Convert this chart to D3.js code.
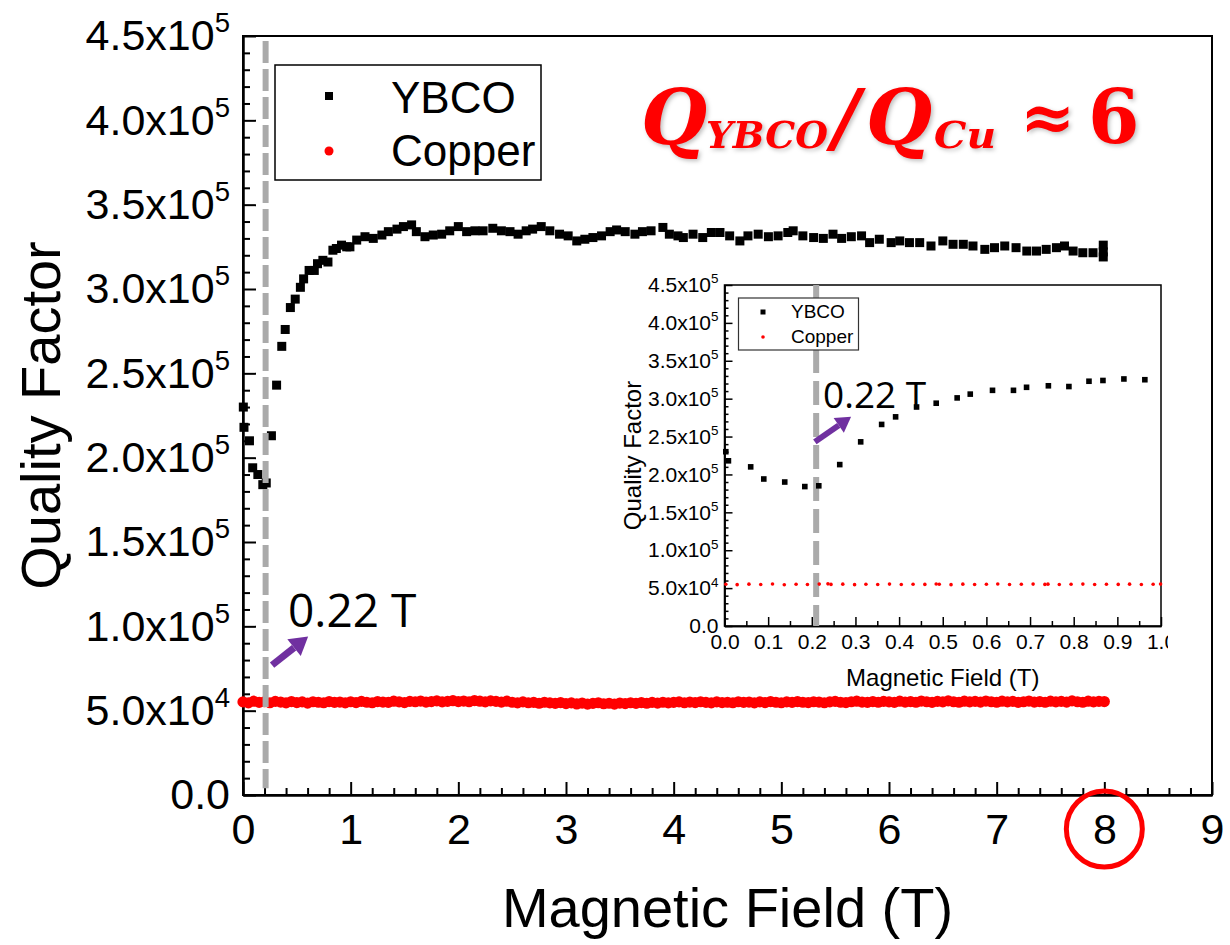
<!DOCTYPE html>
<html>
<head>
<meta charset="utf-8">
<script src="https://cdn.jsdelivr.net/npm/d3@7"></script>
<style>
  body { margin: 0; background: #fff; }
</style>
</head>
<body>
<script>
// ---- data ----
const xTicks = [0, 1, 2, 3, 4, 5, 6, 7, 8, 9];
const yTicks = [0, 50000, 100000, 150000, 200000, 250000, 300000, 350000, 400000, 450000];
const insetXTicks = [0, 0.1, 0.2, 0.3, 0.4, 0.5, 0.6, 0.7, 0.8, 0.9, 1.0];
const seriesNames = ["YBCO", "Copper"];
const transitionField = 0.21;

// YBCO below 1 T (same points as in the inset)
const lowField = [0.003, 0.009, 0.06, 0.09, 0.138, 0.184, 0.216, 0.264, 0.312, 0.36, 0.392, 0.44,
  0.485, 0.533, 0.563, 0.614, 0.662, 0.692, 0.742, 0.789, 0.835, 0.867, 0.915, 0.963];
const lowQ = [230000, 218000, 210000, 194000, 190000, 184000, 185000, 213000, 243000, 266000, 276000, 289000,
  294000, 301000, 306000, 311000, 311000, 315000, 317000, 316000, 323000, 324000, 326000, 325000];

// YBCO from 1 T to 8 T
const highField = [0.993, 1.056, 1.133, 1.21, 1.29, 1.35, 1.43, 1.49, 1.566, 1.61, 1.69, 1.767, 1.845, 1.92,
  2.0, 2.077, 2.154, 2.23, 2.32, 2.40, 2.48, 2.555, 2.63, 2.69, 2.77, 2.85, 2.94, 3.02, 3.10, 3.175, 3.25,
  3.33, 3.41, 3.47, 3.55, 3.64, 3.71, 3.79, 3.90, 3.96, 4.04, 4.09, 4.18, 4.27, 4.35, 4.43, 4.52, 4.615,
  4.69, 4.785, 4.88, 4.97, 5.06, 5.11, 5.20, 5.30, 5.39, 5.48, 5.56, 5.65, 5.745, 5.82, 5.91, 6.02, 6.10,
  6.19, 6.285, 6.39, 6.50, 6.595, 6.69, 6.78, 6.89, 6.98, 7.075, 7.18, 7.28, 7.37, 7.46, 7.555, 7.63,
  7.71, 7.80, 7.895, 7.99, 7.99, 7.99];
const highQ = [325000, 329000, 331000, 330000, 332000, 334000, 335500, 337000, 338000, 334000, 331000, 332000,
  332500, 334500, 337000, 334000, 334500, 334500, 336000, 334500, 334000, 332500, 334500, 335500, 337000,
  334500, 332500, 331500, 328500, 329500, 330500, 331500, 334000, 335000, 334000, 332500, 334000, 334500,
  336500, 332500, 331500, 330500, 332500, 330500, 333500, 333500, 331500, 328500, 331500, 332500, 331000,
  331500, 333500, 334500, 331500, 330500, 330000, 332500, 330000, 331000, 331500, 327500, 329500, 327500,
  328500, 327500, 327500, 325500, 328500, 326500, 326500, 325500, 323500, 324500, 325500, 324500, 322500,
  322500, 323500, 324500, 325500, 322500, 321500, 321500, 326000, 322000, 319000];

// Copper, sampled every 0.05 T from 0 to 8 T
const copperQ = [
  55200, 54600, 55600, 54900, 55300, 54700, 55500, 55100, 54600, 55400, 54800, 55200, 54500, 55300, 55000, 54700, 55400, 54900, 55100, 54600,
  55300, 54800, 55500, 55000, 54700, 55400, 55100, 54900, 55600, 55200, 54800, 55500, 55300, 55700, 55100, 55400, 55800, 55200, 55500, 55900,
  55400, 55700, 55300, 56000, 55600, 55200, 55800, 55500, 55100, 55600, 55000, 54600, 55200, 54700, 54900, 54400, 55000, 54600, 54300, 54800,
  54200, 54600, 54000, 54500, 53900, 54300, 54700, 54100, 54400, 53900, 54500, 54200, 54700, 54300, 54800, 54400, 54900, 54500, 55000, 54600,
  54900, 55200, 54700, 55100, 54800, 55300, 54900, 54600, 55200, 54800, 55000, 54700, 55300, 54900, 55100, 54600, 55200, 54800, 55400, 55000,
  54700, 55200, 54900, 55400, 55000, 54800, 55300, 55100, 54700, 55200, 55500, 55000, 54800, 55300, 55600, 55100, 54900, 55400, 55000, 55500,
  55200, 54900, 55600, 55100, 55400, 55000, 55700, 55300, 54900, 55500, 55200, 55800, 55300, 55000, 55600, 55200, 55500, 55100, 55700, 55300,
  55000, 55600, 55200, 55500, 54900, 55300, 55700, 55100, 55400, 55000, 55600, 55200, 55500, 55100, 55800, 55300, 55000, 55600, 55200, 55500,
  55400];
const copperStep = 0.05;

// Copper points shown in the inset
const insetCuField = [0.003, 0.029, 0.056, 0.083, 0.110, 0.137, 0.164, 0.190, 0.217, 0.237, 0.244, 0.271, 0.298,
  0.324, 0.351, 0.378, 0.405, 0.432, 0.459, 0.485, 0.492, 0.519, 0.546, 0.573, 0.600, 0.626, 0.653, 0.680,
  0.707, 0.734, 0.741, 0.767, 0.794, 0.821, 0.848, 0.875, 0.902, 0.928, 0.955, 0.982, 0.999];
const insetCuQ = [55000, 54600, 55200, 54800, 55400, 54500, 55100, 54700, 55300, 55600, 54900, 55200, 54600,
  55000, 54800, 55300, 54700, 55100, 54900, 55400, 55000, 54600, 55200, 54800, 55100, 55500, 54700, 55000,
  55300, 54900, 55200, 54800, 55000, 55300, 54700, 55100, 54900, 55200, 54800, 55000, 55300];

const ybco = lowField.map((f, i) => ({ f, q: lowQ[i] }))
  .concat(highField.map((f, i) => ({ f, q: highQ[i] })));
const copper = copperQ.map((q, i) => ({ f: i * copperStep, q }));
const insetYbco = lowField.map((f, i) => ({ f, q: lowQ[i] }));
const insetCopper = insetCuField.map((f, i) => ({ f, q: insetCuQ[i] }));

const FONT = "'Liberation Sans', Arial, Helvetica, sans-serif";
const CALIBRI = "'Open Sans', 'Noto Sans', sans-serif";
const PURPLE = "#7030a0";
const RED = "#ff0000";

const svg = d3.select("body").append("svg")
  .attr("width", 1230)
  .attr("height", 945)
  .style("font-family", FONT);

// label like 4.5x10^5
function sciLabel(text, v, fs) {
  text.text(null);
  if (v === 0) { text.text("0.0"); return; }
  const e = Math.floor(Math.log10(v) + 1e-9);
  const m = (v / Math.pow(10, e)).toFixed(1);
  text.append("tspan").text(m + "x10");
  text.append("tspan").attr("dy", -fs * 0.42).attr("font-size", fs * 0.64).text(e);
}

function styleAxis(g, fs, sw) {
  g.attr("font-size", fs).attr("font-family", FONT);
  g.select(".domain").attr("stroke", "#000").attr("stroke-width", sw);
  g.selectAll(".tick line").attr("stroke", "#000").attr("stroke-width", sw);
  g.selectAll(".tick text").attr("fill", "#000");
}

function arrow(g, x1, y1, x2, y2, w, head) {
  const ang = Math.atan2(y2 - y1, x2 - x1);
  const bx = x2 - head * Math.cos(ang), by = y2 - head * Math.sin(ang);
  g.append("line").attr("x1", x1).attr("y1", y1).attr("x2", bx).attr("y2", by)
    .attr("stroke", PURPLE).attr("stroke-width", w);
  const px = Math.sin(ang) * head * 0.6, py = -Math.cos(ang) * head * 0.6;
  g.append("polygon")
    .attr("points", `${x2},${y2} ${bx + px},${by + py} ${bx - px},${by - py}`)
    .attr("fill", PURPLE);
}

// ================= main plot =================
const x = d3.scaleLinear().domain([0, 9]).range([243, 1212]);
const y = d3.scaleLinear().domain([0, 450000]).range([795, 36]);

// minor ticks
const xMinor = d3.range(0, 9.001, 0.2).filter(v => Math.abs(v - Math.round(v)) > 1e-6);
const yMinor = d3.range(0, 450001, 10000).filter(v => v % 50000 !== 0);

svg.append("g").attr("transform", `translate(0,${y(0)})`)
  .call(d3.axisBottom(x).tickValues(xMinor).tickSize(-7).tickSizeOuter(0).tickFormat(""))
  .call(g => styleAxis(g, 43, 2));
svg.append("g").attr("transform", `translate(${x(0)},0)`)
  .call(d3.axisLeft(y).tickValues(yMinor).tickSize(-7).tickSizeOuter(0).tickFormat(""))
  .call(g => styleAxis(g, 43, 2));

svg.append("g").attr("transform", `translate(0,${y(0)})`)
  .call(d3.axisBottom(x).tickValues(xTicks).tickSize(-13).tickSizeOuter(0).tickPadding(18).tickFormat(d3.format("d")))
  .call(g => styleAxis(g, 43, 2));

svg.append("g").attr("transform", `translate(${x(0)},0)`)
  .call(d3.axisLeft(y).tickValues(yTicks).tickSize(-13).tickSizeOuter(0).tickPadding(13))
  .call(g => styleAxis(g, 43, 2))
  .selectAll(".tick text").each(function (d) { sciLabel(d3.select(this), d, 43); });

svg.append("rect")
  .attr("x", x(0)).attr("y", y(450000))
  .attr("width", x(9) - x(0)).attr("height", y(0) - y(450000))
  .attr("fill", "none").attr("stroke", "#000").attr("stroke-width", 2);

// copper band
svg.append("g").selectAll("circle")
  .data(copper)
  .join("circle")
  .attr("cx", d => x(d.f))
  .attr("cy", d => y(d.q))
  .attr("r", 5.6)
  .attr("fill", RED);

// YBCO squares
svg.append("g").selectAll("rect")
  .data(ybco)
  .join("rect")
  .attr("x", d => x(d.f) - 4.5)
  .attr("y", d => y(d.q) - 4.5)
  .attr("width", 9)
  .attr("height", 9)
  .attr("fill", "#000");

// 0.22 T dashed marker
svg.append("line")
  .attr("x1", x(transitionField)).attr("x2", x(transitionField))
  .attr("y1", y(447000)).attr("y2", y(4000))
  .attr("stroke", "#aaaaaa").attr("stroke-width", 6)
  .attr("stroke-dasharray", "22,6");

// axis titles
svg.append("text")
  .attr("x", (x(0) + x(9)) / 2)
  .attr("y", 927)
  .attr("text-anchor", "middle")
  .attr("font-size", 56)
  .text("Magnetic Field (T)");

svg.append("text")
  .attr("transform", `translate(60,${(y(0) + y(450000)) / 2}) rotate(-90)`)
  .attr("text-anchor", "middle")
  .attr("font-size", 56)
  .text("Quality Factor");

// legend
const legend = svg.append("g");
legend.append("rect")
  .attr("x", 275).attr("y", 65).attr("width", 266).attr("height", 115)
  .attr("fill", "#fff").attr("stroke", "#000").attr("stroke-width", 1.5);
legend.append("rect").attr("x", 325).attr("y", 92).attr("width", 8).attr("height", 8).attr("fill", "#000");
legend.append("circle").attr("cx", 329).attr("cy", 151).attr("r", 4.5).attr("fill", RED);
legend.append("text").attr("x", 391).attr("y", 113).attr("font-size", 44).text(seriesNames[0]);
legend.append("text").attr("x", 391).attr("y", 166).attr("font-size", 44).text(seriesNames[1]);

// annotation
arrow(svg, x(0.27), y(77000), x(0.605), y(94000), 7, 18);
svg.append("text")
  .attr("x", 288).attr("y", 627)
  .attr("font-family", CALIBRI)
  .attr("font-size", 46)
  .text("0.22 T");

// ratio headline
const title = svg.append("g")
  .attr("fill", RED)
  .attr("font-family", "'DejaVu Serif', 'Liberation Serif', serif")
  .attr("font-weight", "bold")
  .style("filter", "drop-shadow(2px 2px 2px rgba(0,0,0,0.25))");
title.append("text").attr("x", 641).attr("y", 144).attr("font-size", 76).attr("font-style", "italic").text("Q");
title.append("text").attr("x", 706).attr("y", 148).attr("font-size", 38).attr("font-style", "italic")
  .attr("textLength", 122).attr("lengthAdjust", "spacingAndGlyphs").text("YBCO");
title.append("text").attr("x", 832).attr("y", 144).attr("font-size", 76).attr("font-style", "italic").text("/");
title.append("text").attr("x", 866).attr("y", 144).attr("font-size", 76).attr("font-style", "italic").text("Q");
title.append("text").attr("x", 934).attr("y", 148).attr("font-size", 38).attr("font-style", "italic")
  .attr("textLength", 62).attr("lengthAdjust", "spacingAndGlyphs").text("Cu");
title.append("text").attr("x", 1020).attr("y", 140).attr("font-size", 66).text("≈");
title.append("text").attr("x", 1088).attr("y", 143).attr("font-size", 74).text("6");

// circle around 8 T
svg.append("circle")
  .attr("cx", x(8)).attr("cy", 829).attr("r", 38)
  .attr("fill", "none").attr("stroke", RED).attr("stroke-width", 5);

// ================= inset =================
svg.append("clipPath").attr("id", "inset-clip")
  .append("rect").attr("x", 590).attr("y", 270).attr("width", 578).attr("height", 430);

const inset = svg.append("g").attr("clip-path", "url(#inset-clip)");
const ix = d3.scaleLinear().domain([0, 1]).range([724.5, 1161]);
const iy = d3.scaleLinear().domain([0, 450000]).range([626, 285]);

const ixMinor = d3.range(0.05, 1, 0.1);
const iyMinor = d3.range(0, 450001, 10000).filter(v => v % 50000 !== 0);

inset.append("g").attr("transform", `translate(0,${iy(0)})`)
  .call(d3.axisBottom(ix).tickValues(ixMinor).tickSize(-5).tickSizeOuter(0).tickFormat(""))
  .call(g => styleAxis(g, 21, 1.5));
inset.append("g").attr("transform", `translate(${ix(0)},0)`)
  .call(d3.axisLeft(iy).tickValues(iyMinor).tickSize(-4).tickSizeOuter(0).tickFormat(""))
  .call(g => styleAxis(g, 21, 1.5));
inset.append("g").attr("transform", `translate(0,${iy(0)})`)
  .call(d3.axisBottom(ix).tickValues(insetXTicks).tickSize(-9).tickSizeOuter(0).tickPadding(8).tickFormat(d3.format(".1f")))
  .call(g => styleAxis(g, 21, 1.5));
inset.append("g").attr("transform", `translate(${ix(0)},0)`)
  .call(d3.axisLeft(iy).tickValues(yTicks).tickSize(-8).tickSizeOuter(0).tickPadding(6))
  .call(g => styleAxis(g, 21, 1.5))
  .selectAll(".tick text").each(function (d) { sciLabel(d3.select(this), d, 21); });

inset.append("rect")
  .attr("x", ix(0)).attr("y", iy(450000))
  .attr("width", ix(1) - ix(0)).attr("height", iy(0) - iy(450000))
  .attr("fill", "none").attr("stroke", "#000").attr("stroke-width", 1.5);

inset.append("line")
  .attr("x1", ix(transitionField)).attr("x2", ix(transitionField))
  .attr("y1", iy(450000)).attr("y2", iy(0))
  .attr("stroke", "#aaaaaa").attr("stroke-width", 6)
  .attr("stroke-dasharray", "24,8");

inset.append("g").selectAll("circle")
  .data(insetCopper)
  .join("circle")
  .attr("cx", d => ix(d.f))
  .attr("cy", d => iy(d.q))
  .attr("r", 1.8)
  .attr("fill", RED);

inset.append("g").selectAll("rect")
  .data(insetYbco)
  .join("rect")
  .attr("x", d => ix(d.f) - 2.8)
  .attr("y", d => iy(d.q) - 2.8)
  .attr("width", 5.6)
  .attr("height", 5.6)
  .attr("fill", "#000");

inset.append("text")
  .attr("x", (ix(0) + ix(1)) / 2).attr("y", 686)
  .attr("text-anchor", "middle").attr("font-size", 24)
  .text("Magnetic Field (T)");
inset.append("text")
  .attr("transform", `translate(641,${(iy(0) + iy(450000)) / 2}) rotate(-90)`)
  .attr("text-anchor", "middle").attr("font-size", 24)
  .text("Quality Factor");

// inset legend
inset.append("rect")
  .attr("x", 738.5).attr("y", 298).attr("width", 120).attr("height", 52)
  .attr("fill", "#fff").attr("stroke", "#333").attr("stroke-width", 1.2);
inset.append("rect").attr("x", 760.5).attr("y", 309.5).attr("width", 5).attr("height", 5).attr("fill", "#000");
inset.append("circle").attr("cx", 763).attr("cy", 337).attr("r", 1.8).attr("fill", RED);
inset.append("text").attr("x", 791).attr("y", 318).attr("font-size", 19).text(seriesNames[0]);
inset.append("text").attr("x", 791).attr("y", 343).attr("font-size", 19).text(seriesNames[1]);

// inset annotation
arrow(inset, ix(0.207), iy(243000), ix(0.29), iy(276000), 6, 15);
inset.append("text")
  .attr("x", 823).attr("y", 408)
  .attr("font-family", CALIBRI)
  .attr("font-size", 37)
  .text("0.22 T");
</script>
</body>
</html>
